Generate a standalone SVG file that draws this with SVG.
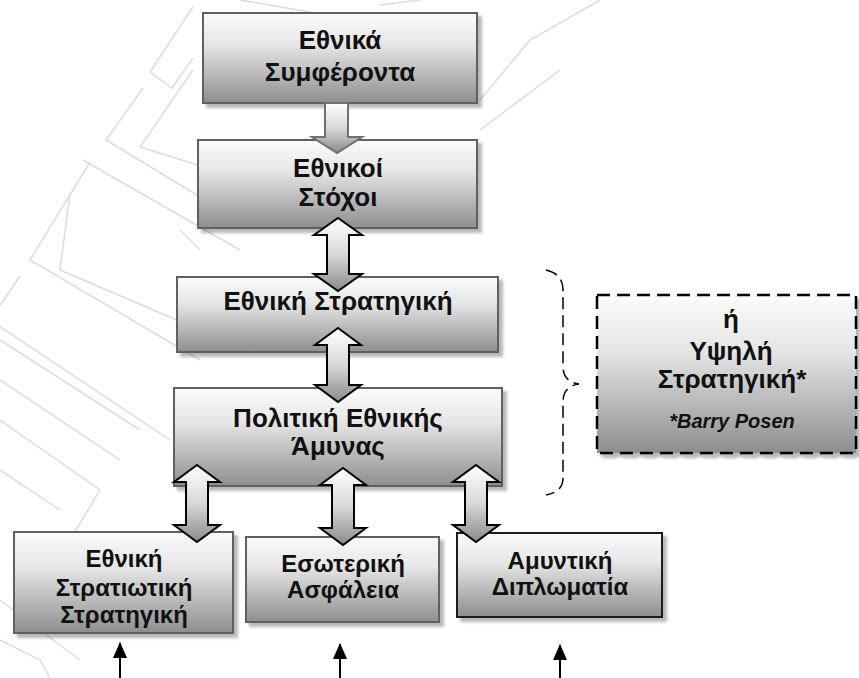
<svg xmlns="http://www.w3.org/2000/svg" width="859" height="678" viewBox="0 0 859 678">
<style>
.box{fill:url(#boxg);stroke:#606060;stroke-width:2;filter:url(#sh)}
.boxk{fill:url(#boxg);stroke:#1a1a1a;stroke-width:2;filter:url(#sh)}
.dbox{fill:url(#boxg);stroke:#000;stroke-width:2.5;stroke-dasharray:13 7;filter:url(#sh)}
.t{font-family:"Liberation Sans",Arial,sans-serif;font-weight:bold;font-size:26px;fill:#111;text-anchor:middle}
.ts{font-family:"Liberation Sans",Arial,sans-serif;font-weight:bold;font-size:24px;fill:#111;text-anchor:middle}
.ti{font-family:"Liberation Sans",Arial,sans-serif;font-weight:bold;font-style:italic;font-size:20px;fill:#111;text-anchor:middle}
.darr{fill:url(#arrg);stroke:#000;stroke-width:2;stroke-linejoin:miter}
.sarr{fill:url(#arrg);stroke:#707070;stroke-width:2}
.thin{stroke:#000;stroke-width:2;fill:none;marker-end:url(#ah)}
.brace{fill:none;stroke:#000;stroke-width:1.5;stroke-dasharray:12 6}
.wm{fill:none;stroke:#dcdcdc;stroke-width:1.5}
</style>
<defs>
<linearGradient id="boxg" x1="0" y1="0" x2="0" y2="1">
<stop offset="0" stop-color="#fbfbfb"/>
<stop offset="0.35" stop-color="#e6e6e6"/>
<stop offset="1" stop-color="#8e8e8e"/>
</linearGradient>
<linearGradient id="arrg" x1="0" y1="0" x2="0" y2="1">
<stop offset="0" stop-color="#ffffff"/>
<stop offset="0.5" stop-color="#d8d8d8"/>
<stop offset="1" stop-color="#8a8a8a"/>
</linearGradient>
<filter id="sh" x="-10%" y="-10%" width="130%" height="130%">
<feDropShadow dx="4" dy="4" stdDeviation="1.5" flood-color="#000" flood-opacity="0.28"/>
</filter>
<marker id="ah" markerWidth="16" markerHeight="14" viewBox="0 0 16 14" refX="15" refY="7" orient="auto" markerUnits="userSpaceOnUse">
<path d="M0,0 L16,7 L0,14 Z" fill="#000"/>
</marker>
</defs>
<rect width="859" height="678" fill="#fff"/>
<g id="watermark">
<path class="wm" d="M193,7 L150,72 L172,88 L193,58"/>
<path class="wm" d="M143,88 L106,140 L230,215"/>
<path class="wm" d="M193,70 L140,147 L230,175"/>
<path class="wm" d="M90,162 L30,260 L200,360"/>
<path class="wm" d="M70,193 L60,270 L200,330"/>
<path class="wm" d="M83,160 L240,250"/>
<path class="wm" d="M20,276 L-10,320 L170,440"/>
<path class="wm" d="M0,340 L140,430"/>
<path class="wm" d="M0,380 L120,460"/>
<path class="wm" d="M0,420 L100,490 L70,540"/>
<path class="wm" d="M0,470 L60,510"/>
<path class="wm" d="M0,640 L40,660 L50,678"/>
<path class="wm" d="M0,600 L80,660"/>
<path class="wm" d="M240,0 L310,12"/>
<path class="wm" d="M380,5 L420,0"/>
<path class="wm" d="M480,100 L530,40 L600,0"/>
<path class="wm" d="M480,130 L560,70"/>
<path class="wm" d="M180,230 L200,250"/>
</g>
<g id="n1"><rect class="box" x="203" y="13" width="274" height="90"/>
<text class="t" x="340" y="49">Εθνικά</text><text class="t" x="340" y="81">Συμφέροντα</text></g>
<g id="n2"><rect class="box" x="198" y="140" width="279" height="88"/>
<text class="t" x="338" y="177">Εθνικοί</text><text class="t" x="338" y="206">Στόχοι</text></g>
<g id="n3"><rect class="box" x="177" y="277" width="321" height="75"/>
<text class="t" x="338" y="310">Εθνική Στρατηγική</text></g>
<g id="n4"><rect class="box" x="174" y="388" width="328" height="98"/>
<text class="t" x="338" y="427">Πολιτική Εθνικής</text><text class="t" x="338" y="455">Άμυνας</text></g>
<g id="n5"><rect class="box" x="14" y="532" width="219" height="101"/>
<text class="ts" x="124" y="567">Εθνική</text><text class="ts" x="124" y="596">Στρατιωτική</text><text class="ts" x="124" y="623">Στρατηγική</text></g>
<g id="n6"><rect class="box" x="246" y="537" width="193" height="85"/>
<text class="ts" x="343" y="572">Εσωτερική</text><text class="ts" x="343" y="598">Ασφάλεια</text></g>
<g id="n7"><rect class="boxk" x="457" y="533" width="205" height="84"/>
<text class="ts" x="560" y="569">Αμυντική</text><text class="ts" x="560" y="595">Διπλωματία</text></g>
<g id="n8"><rect class="dbox" x="597" y="295" width="259" height="158"/>
<text class="t" x="731" y="328">ή</text><text class="t" x="731" y="360">Υψηλή</text><text class="t" x="732" y="388">Στρατηγική*</text>
<text class="ti" x="732" y="428">*Barry Posen</text></g>
<g id="connectors">
<path class="sarr" d="M325,103 L348,103 L348,137 L362,137 L337,153 L312,137 L325,137 Z"/>
<path class="darr" d="M338,218 L362,235 L349,235 L349,274 L362,274 L338,291 L314,274 L327,274 L327,235 L314,235 Z"/>
<path class="darr" d="M338,328 L361,345 L349,345 L349,385 L361,385 L338,402 L315,385 L327,385 L327,345 L315,345 Z"/>
<path class="darr" d="M197,465 L220,482 L208,482 L208,525 L220,525 L197,542 L174,525 L186,525 L186,482 L174,482 Z"/>
<path class="darr" d="M343,468 L366,485 L354,485 L354,528 L366,528 L343,545 L320,528 L332,528 L332,485 L320,485 Z"/>
<path class="darr" d="M476,465 L499,482 L487,482 L487,525 L499,525 L476,542 L453,525 L465,525 L465,482 L453,482 Z"/>
<line class="thin" x1="120" y1="678" x2="120" y2="643"/>
<line class="thin" x1="340" y1="678" x2="340" y2="644"/>
<line class="thin" x1="560" y1="678" x2="560" y2="645"/>
<path class="brace" d="M546,270 Q563,274 563,290 L563,366 Q563,382 579,384 Q563,386 563,402 L563,478 Q563,492 546,495"/>
</g>
</svg>
